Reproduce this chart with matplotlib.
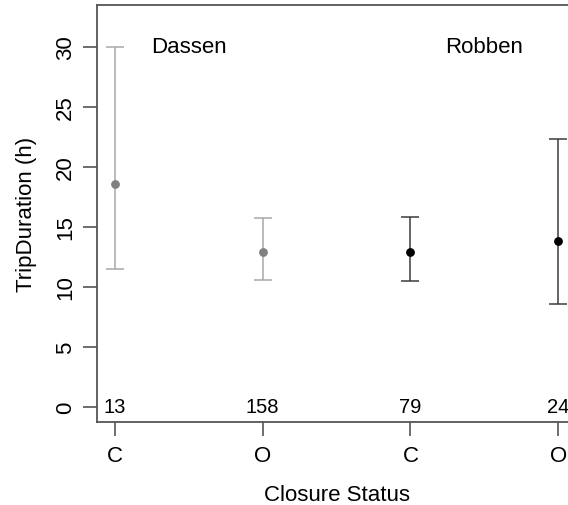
import matplotlib
matplotlib.use('Agg')
import matplotlib.pyplot as plt

# data
status = ['C', 'O', 'C', 'O']
islands = ['Dassen', 'Robben']
mean_dur = [18.6, 12.9, 12.9, 13.8]
lower_ci = [11.5, 10.55, 10.45, 8.55]
upper_ci = [30.0, 15.75, 15.85, 22.3]
n_trips = [13, 158, 79, 24]

plt.rcParams['font.family'] = ['Liberation Sans', 'DejaVu Sans']

line_cols = ['#a8a8a8', '#a8a8a8', '#3c3c3c', '#3c3c3c']
pt_cols = ['#808080', '#808080', '#000000', '#000000']
spine_col = '#555555'


def main():
    fig = plt.figure(figsize=(5.68, 5.06), dpi=100)
    ax = fig.add_axes([97 / 568, 82.7 / 506, 479 / 568, 417.3 / 506])

    xs = list(range(1, len(status) + 1))
    for i, x in enumerate(xs):
        ax.errorbar(x, mean_dur[i],
                    yerr=[[mean_dur[i] - lower_ci[i]], [upper_ci[i] - mean_dur[i]]],
                    fmt='none', ecolor=line_cols[i], elinewidth=1.1,
                    capsize=6.3, capthick=1.1)
        ax.plot(x, mean_dur[i], 'o', color=pt_cols[i], markersize=5.3)
        ax.text(x, 0, str(n_trips[i]), ha='center', va='center', fontsize=14.5)

    # island names over each pair
    ax.text(1.5, 30, islands[0], ha='center', va='center', fontsize=16)
    ax.text(3.5, 30, islands[1], ha='center', va='center', fontsize=16)

    ax.set_xlim(0.88, 4.12)
    ax.set_ylim(-1.3, 33.5)
    ax.set_xticks(xs)
    ax.set_xticklabels(status)
    ax.set_yticks([0, 5, 10, 15, 20, 25, 30])
    ax.set_yticklabels(['0', '5', '10', '15', '20', '25', '30'], rotation=90, va='center')

    ax.tick_params(axis='both', labelsize=16, length=10, width=1.2, color=spine_col)
    ax.tick_params(axis='y', pad=5)
    ax.tick_params(axis='x', pad=6)

    for s in ['left', 'bottom', 'top', 'right']:
        ax.spines[s].set_color(spine_col)
        ax.spines[s].set_linewidth(1.3)

    ax.set_xlabel('Closure Status', fontsize=16)
    ax.set_ylabel('TripDuration (h)', fontsize=16)
    ax.xaxis.set_label_coords(0.5, -0.147)
    ax.yaxis.set_label_coords(-0.125, 0.5)

    fig.savefig('out.png', dpi=100)


if __name__ == '__main__':
    main()
